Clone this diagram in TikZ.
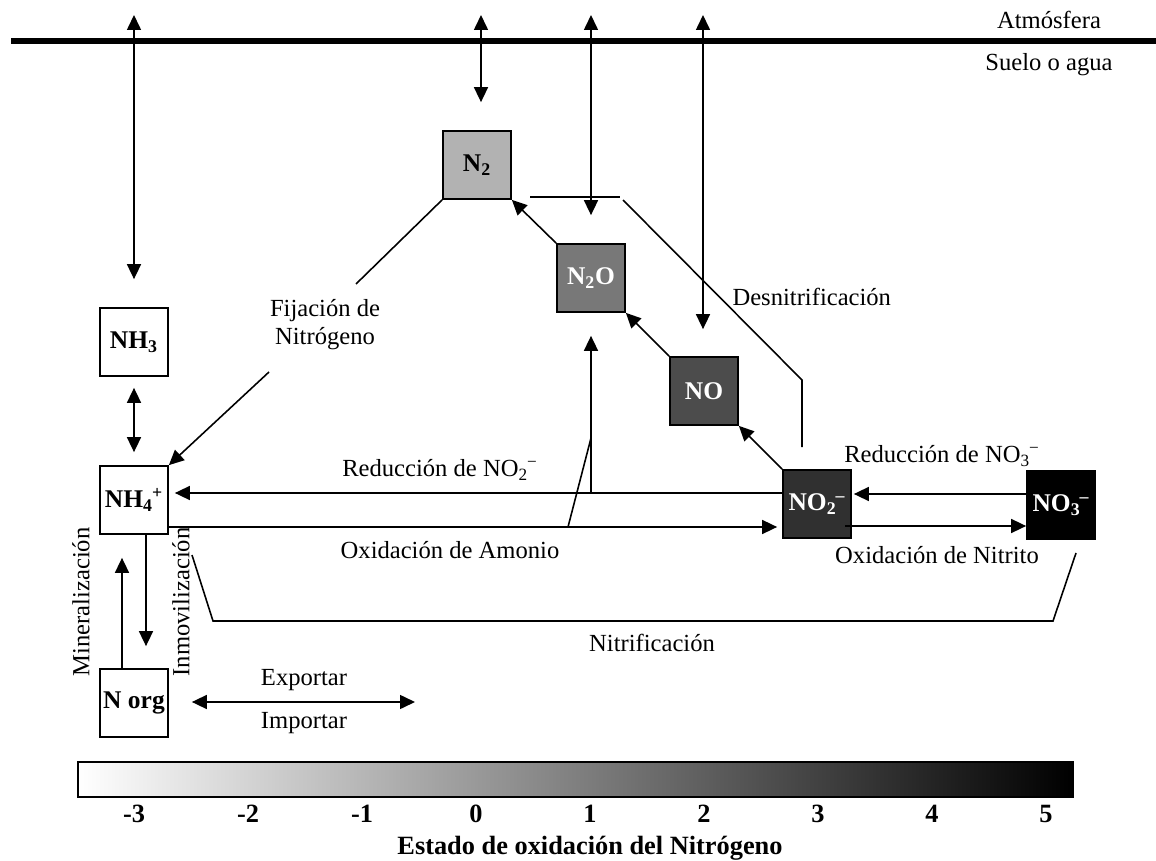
\documentclass[tikz,border=0pt]{standalone}
\usepackage{fontspec}
\setmainfont{Liberation Serif}
\usetikzlibrary{arrows.meta,calc}

\newcommand{\ionx}[2]{\textsubscript{#1}\kern-0.5pt\textsuperscript{#2}}

\begin{document}
\begin{tikzpicture}[x=0.02cm, y=-0.02cm, line width=0.9pt,
    font=\fontsize{14}{16}\selectfont,
    >={Triangle[length=0.3cm,width=0.28cm]},
    box/.style={draw, line width=1pt, minimum size=1.36cm, inner sep=0pt, font=\fontsize{14.5}{16}\selectfont\bfseries},
    lbl/.style={inner sep=1pt},
    scalelbl/.style={inner sep=1pt, font=\fontsize{15}{17}\selectfont\bfseries}]
    \useasboundingbox (0,0) rectangle (1156,861);

    % Atmosphere / soil boundary
    \draw[line width=3.2pt] (11,41) -- (1156,41);
    \node[lbl] (atm) at (1049,20) {Atmósfera};
    \node[lbl] (suelo) at (1049,65) {Suelo o agua};

    % Boxes
    \node[box] (nh3) at (134,342) {NH\textsubscript{3}};
    \node[box] (nh4) at (134,500) {NH\ionx{4}{+}};
    \node[box] (norg) at (134,703) {N org};
    \node[box, fill=black!30] (n2) at (477,165) {N\textsubscript{2}};
    \node[box, fill=black!53, text=white] (n2o) at (591,278) {N\textsubscript{2}O};
    \node[box, fill=black!70, text=white] (no) at (704,391) {NO};
    \node[box, fill=black!81, text=white] (no2) at (817,504) {NO\ionx{2}{\textendash}};
    \node[box, fill=black, text=white] (no3) at (1061,505) {NO\ionx{3}{\textendash}};

    % Exchange with the atmosphere
    \coordinate (atmA) at (134,15);
    \coordinate (atmB) at (481,15);
    \coordinate (atmC) at (591,15);
    \coordinate (atmD) at (703,15);
    \draw[<->, shorten >=0.56cm] (atmA) -- (atmA |- nh3.north);
    \draw[<->, shorten >=0.56cm] (atmB) -- (atmB |- n2.north);
    \draw[<->, shorten >=0.56cm] (atmC) -- (atmC |- n2o.north);
    \draw[<->, shorten >=0.54cm] (atmD) -- (atmD |- no.north);
    \draw[<->, shorten <=0.22cm, shorten >=0.26cm] (nh3.south) -- (nh4.north);

    % Denitrification chain
    \draw[->] (n2o.north west) -- (n2.south east);
    \draw[->] (no.north west) -- (n2o.south east);
    \draw[->] (no2.north west) -- (no.south east);
    \draw (530,197) -- (620,197);
    \draw (623,200) -- (802,380) -- (802,447);
    \node[lbl, anchor=west] (desn) at (730,297) {Desnitrificación};

    % Nitrogen fixation
    \coordinate (fijA) at (356,284);
    \coordinate (fijB) at (269,372);
    \draw (n2.south west) -- (fijA);
    \node[lbl, align=center] (fij) at (325,325) {Fijación de\\Nitrógeno};
    \draw[->] (fijB) -- (nh4.north east);

    % Reduction and oxidation along the bottom row
    \draw[->, shorten >=0.12cm] ([yshift=0.22cm]no2.west) coordinate (r2) -- (nh4.east |- r2);
    \node[lbl] (red2) at (440,470) {Reducción de NO\ionx{2}{−}};
    \draw[->, shorten >=0.1cm] ([yshift=-0.54cm]nh4.east) coordinate (oa) -- (no2.west |- oa);
    \node[lbl] (oxam) at (450,550) {Oxidación de Amonio};
    \draw[->, shorten >=0.46cm] (n2o |- r2) -- (n2o.south);
    \coordinate (oaA) at (568,527);
    \coordinate (oaB) at (591,438);
    \draw (oaA) -- (oaB);
    \draw[->, shorten >=0.04cm] ([yshift=0.22cm]no3.west) coordinate (r3) -- (no2.east |- r3);
    \node[lbl] (red3) at (942,456) {Reducción de NO\ionx{3}{−}};
    \draw[->] (845,526) coordinate (on) -- (no3.west |- on);
    \node[lbl] (oxni) at (937,555) {Oxidación de Nitrito};

    % Nitrification bracket
    \draw (192,555) -- (213,621) -- (1053,621) -- (1076,553);
    \node[lbl] (nitr) at (652,643) {Nitrificación};

    % Mineralization / immobilization
    \draw[->, shorten >=0.46cm] ([xshift=-0.24cm]norg.north) coordinate (mi) -- (mi |- nh4.south);
    \draw[->, shorten >=0.44cm] ([xshift=0.24cm]nh4.south) coordinate (im) -- (im |- norg.north);
    \node[lbl, rotate=90] (mine) at (81,602) {Mineralización};
    \node[lbl, rotate=90] (inmo) at (181,602) {Inmovilización};

    % Export / import
    \coordinate (expR) at (415,702);
    \draw[<->, shorten <=0.46cm] (norg.east |- expR) -- (expR);
    \node[lbl] (expo) at (304,680) {Exportar};
    \node[lbl] (impo) at (304,723) {Importar};

    % Oxidation state scale
    \shade[left color=white, right color=black] (78,762) rectangle (1073,797);
    \draw[line width=0.8pt] (78,762) rectangle (1073,797);
    \foreach \v [count=\i from 0] in {-3,-2,-1,0,1,2,3,4,5}
        \node[scalelbl] at (134+114*\i,814) {\v};
    \node[scalelbl] (scale) at (590,848) {Estado de oxidación del Nitrógeno};
\end{tikzpicture}
\end{document}
